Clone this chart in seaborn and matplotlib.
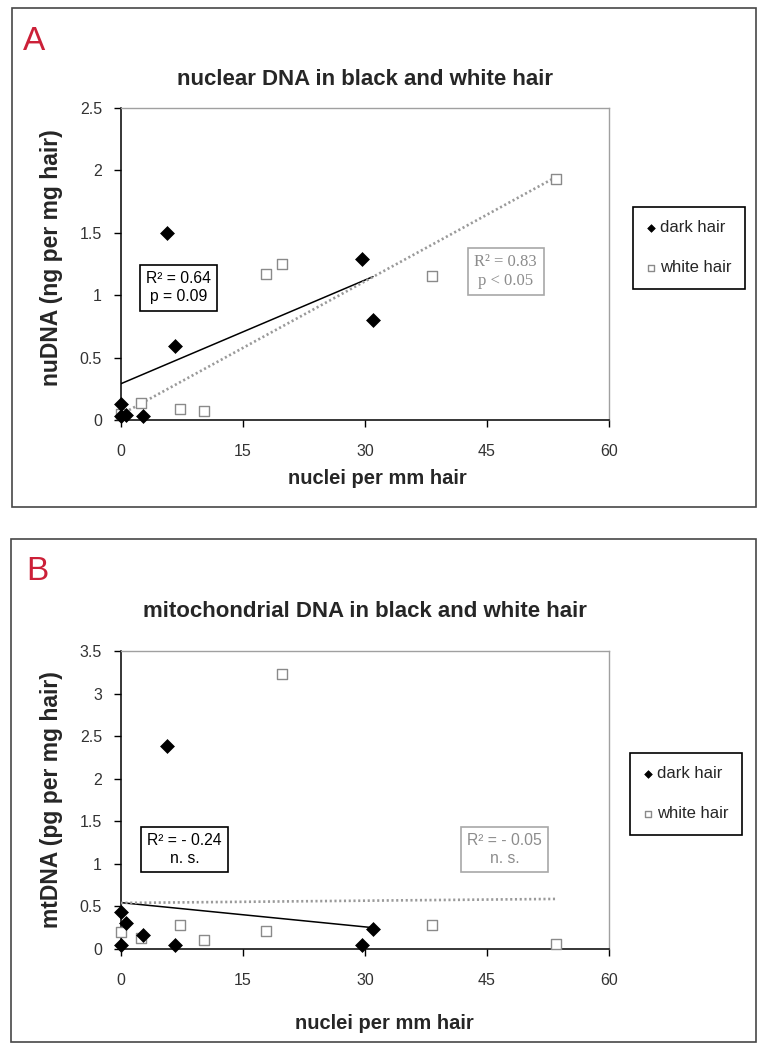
import numpy as np
import pandas as pd
import matplotlib
matplotlib.use("Agg")
import matplotlib.pyplot as plt
from matplotlib.patches import Rectangle
import seaborn as sns

# ---------------- data ----------------
x_ticks = [0, 15, 30, 45, 60]
yticks_A = [0, 0.5, 1, 1.5, 2, 2.5]
yticks_B = [0, 0.5, 1, 1.5, 2, 2.5, 3, 3.5]

# panel A: nuclear DNA
dark_x_A = [0, 0, 0.6, 2.75, 5.7, 6.7, 29.7, 31.0]
dark_y_A = [0.13, 0.03, 0.04, 0.03, 1.50, 0.59, 1.29, 0.80]
white_x_A = [0, 2.5, 7.3, 10.2, 17.8, 19.8, 38.2, 53.5]
white_y_A = [0.05, 0.14, 0.09, 0.07, 1.17, 1.25, 1.15, 1.93]

# panel B: mitochondrial DNA
dark_x_B = [0, 0, 0.6, 2.75, 5.7, 6.7, 29.7, 31.0]
dark_y_B = [0.43, 0.05, 0.30, 0.17, 2.39, 0.05, 0.05, 0.24]
white_x_B = [0, 2.5, 7.3, 10.2, 17.8, 19.8, 38.2, 53.5]
white_y_B = [0.20, 0.13, 0.28, 0.10, 0.21, 3.23, 0.28, 0.06]

# trend lines (intercept, slope)
dark_fit_A = [0.29, 0.0277]
white_fit_A = [0.043, 0.0356]
dark_fit_B = [0.545, -0.0095]
white_fit_B = [0.541, 0.00088]

stats_dark_A = "R\u00b2 = 0.64\np = 0.09"
stats_white_A = "R\u00b2 = 0.83\np < 0.05"
stats_dark_B = "R\u00b2 = - 0.24\nn. s."
stats_white_B = "R\u00b2 = - 0.05\nn. s."

titles = ["nuclear DNA in black and white hair",
          "mitochondrial DNA in black and white hair"]
ylabels = ["nuDNA (ng per mg hair)", "mtDNA (pg per mg hair)"]
xlabel = "nuclei per mm hair"
series_labels = ["dark hair", "white hair"]
panel_letters = ["A", "B"]

# ---------------- style ----------------
sns.set_style("ticks")
plt.rcParams["font.family"] = ["Liberation Sans", "DejaVu Sans"]

W, H = 763, 1045
fig = plt.figure(figsize=(W / 100, H / 100), dpi=100)

GREY_LINE = "#9a9a9a"
GREY_TEXT = "#8c8c8c"
LETTER_RED = "#cc2038"


def fx(px):
    return px / W


def fy(py):
    return 1 - py / H


panels = [
    dict(ax_rect=[fx(120.7), fy(420), fx(609) - fx(120.7), (420 - 108) / H],
         frame=(11.7, 8.3, 756, 506.7), letter_pos=(23, 50),
         dx=dark_x_A, dy=dark_y_A, wx=white_x_A, wy=white_y_A,
         dfit=dark_fit_A, wfit=white_fit_A, ymax=2.5, yticks=yticks_A,
         sd=stats_dark_A, sw=stats_white_A, sd_pos=(7.1, 1.058), sw_pos=(47.3, 1.19),
         white_serif=True, title_pad=16.5, xlab=(0.525, -0.157), ylab=(-0.118, 0.519),
         leg=(633, 207)),
    dict(ax_rect=[fx(120.7), fy(949), fx(609) - fx(120.7), (949 - 651) / H],
         frame=(11.0, 539, 756, 1041.7), letter_pos=(26, 580),
         dx=dark_x_B, dy=dark_y_B, wx=white_x_B, wy=white_y_B,
         dfit=dark_fit_B, wfit=white_fit_B, ymax=3.5, yticks=yticks_B,
         sd=stats_dark_B, sw=stats_white_B, sd_pos=(7.85, 1.17), sw_pos=(47.2, 1.17),
         white_serif=False, title_pad=24.5, xlab=(0.54, -0.218), ylab=(-0.118, 0.5),
         leg=(630, 753)),
]

for i, p in enumerate(panels):
    # panel frame
    x0, y0, x1, y1 = p["frame"]
    fig.add_artist(Rectangle((fx(x0), fy(y1)), fx(x1) - fx(x0), (y1 - y0) / H,
                             transform=fig.transFigure, fill=False,
                             edgecolor="#474747", linewidth=1.2))
    fig.text(fx(p["letter_pos"][0]), fy(p["letter_pos"][1]), panel_letters[i],
             color=LETTER_RED, fontsize=24, ha="left", va="baseline")

    ax = fig.add_axes(p["ax_rect"])
    df_d = pd.DataFrame({"x": p["dx"], "y": p["dy"]})
    df_w = pd.DataFrame({"x": p["wx"], "y": p["wy"]})

    # trend lines
    xd = np.array([min(p["dx"]), max(p["dx"])])
    xw = np.array([min(p["wx"]), max(p["wx"])])
    sns.lineplot(x=xd, y=p["dfit"][0] + p["dfit"][1] * xd, color="black",
                 linewidth=1.1, ax=ax, legend=False, zorder=3)
    sns.lineplot(x=xw, y=p["wfit"][0] + p["wfit"][1] * xw, color=GREY_LINE,
                 linewidth=1.9, linestyle=(0, (0.8, 1.0)), ax=ax, legend=False, zorder=3)

    sns.scatterplot(data=df_w, x="x", y="y", marker="s", s=62, color="white",
                    edgecolor="#8a8a8a", linewidth=1.0, ax=ax, clip_on=False,
                    zorder=5, label=series_labels[1])
    sns.scatterplot(data=df_d, x="x", y="y", marker="D", s=50, color="black",
                    edgecolor="black", linewidth=0.5, ax=ax, clip_on=False,
                    zorder=6, label=series_labels[0])

    ax.set_xlim(0, 60)
    ax.set_ylim(0, p["ymax"])
    ax.set_xticks(x_ticks)
    ax.set_xticklabels([f"{t:g}" for t in x_ticks])
    ax.set_yticks(p["yticks"])
    ax.set_yticklabels([f"{t:g}" for t in p["yticks"]])
    ax.tick_params(axis="x", direction="out", length=5, width=1, pad=12,
                   labelsize=11.5, labelcolor="#333333", color="black")
    ax.tick_params(axis="y", direction="out", length=5, width=1, pad=8.5,
                   labelsize=11.5, labelcolor="#333333", color="black")
    for s in ["left", "bottom"]:
        ax.spines[s].set_color("black")
        ax.spines[s].set_linewidth(1.1)
    for s in ["top", "right"]:
        ax.spines[s].set_visible(True)
        ax.spines[s].set_color("#a0a0a0")
        ax.spines[s].set_linewidth(1.0)

    ax.set_title(titles[i], fontsize=16, fontweight="bold", pad=p["title_pad"])
    ax.set_xlabel(xlabel, fontsize=14.5, fontweight="bold")
    ax.xaxis.set_label_coords(*p["xlab"])
    ax.set_ylabel(ylabels[i], fontsize=16.5, fontweight="bold")
    ax.yaxis.set_label_coords(*p["ylab"])

    # stats boxes
    ax.text(*p["sd_pos"], p["sd"], ha="center", va="center", fontsize=11.3,
            color="black", linespacing=1.25,
            bbox=dict(boxstyle="square,pad=0.4", facecolor="white",
                      edgecolor="black", linewidth=1.2), zorder=7)
    ax.text(*p["sw_pos"], p["sw"], ha="center", va="center",
            fontsize=12 if p["white_serif"] else 11.3,
            family=["Liberation Serif"] if p["white_serif"] else ["Liberation Sans"],
            color=GREY_TEXT, linespacing=1.2,
            bbox=dict(boxstyle="square,pad=0.4", facecolor="white",
                      edgecolor="#a8a8a8", linewidth=1.2), zorder=7)

    handles, labels = ax.get_legend_handles_labels()
    order = [labels.index(series_labels[0]), labels.index(series_labels[1])]
    leg = ax.legend([handles[k] for k in order], [labels[k] for k in order],
                    loc="upper left", bbox_to_anchor=(fx(p["leg"][0]), fy(p["leg"][1])),
                    bbox_transform=fig.transFigure, frameon=True, fancybox=False,
                    edgecolor="black", framealpha=1, borderaxespad=0,
                    borderpad=0.8, labelspacing=1.5, handlelength=0.5,
                    handletextpad=0.3, markerscale=0.55, fontsize=12)
    leg.get_frame().set_linewidth(1.2)

fig.savefig("out.png", dpi=100, facecolor="white")
